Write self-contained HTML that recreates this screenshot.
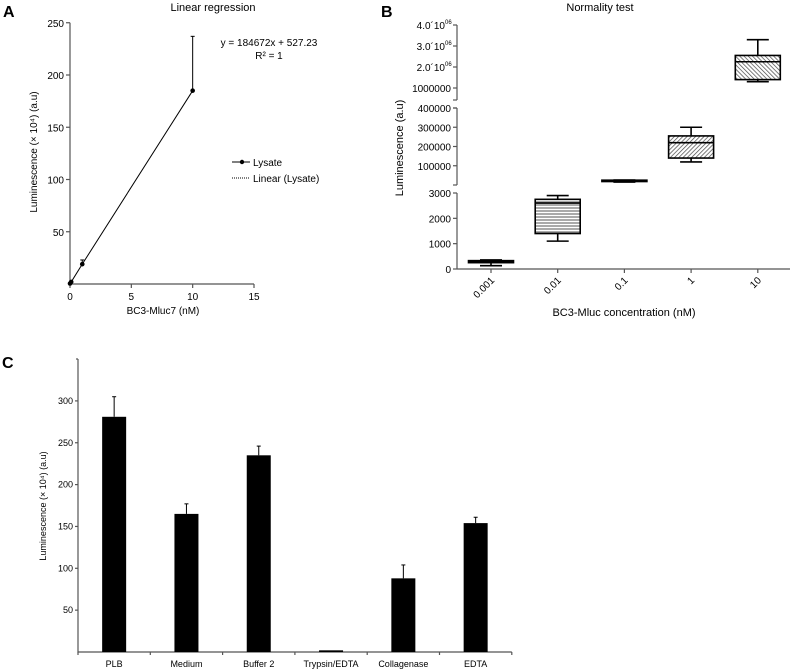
<!DOCTYPE html>
<html><head><meta charset="utf-8"><style>
body{margin:0;background:#fff}
svg{display:block;font-family:"Liberation Sans",Arial,sans-serif}
</style></head><body>
<svg id="fig" width="791" height="669" viewBox="0 0 791 669">
<defs>
<pattern id="hH" width="4" height="3" patternUnits="userSpaceOnUse"><rect width="4" height="3" fill="#fff"/><line x1="0" y1="1" x2="4" y2="1" stroke="#555" stroke-width="1"/></pattern>
<pattern id="hF" width="3" height="3" patternUnits="userSpaceOnUse" patternTransform="rotate(45)"><rect width="3" height="3" fill="#fff"/><line x1="0" y1="0" x2="0" y2="3" stroke="#444" stroke-width="1.4"/></pattern>
<pattern id="hB" width="3" height="3" patternUnits="userSpaceOnUse" patternTransform="rotate(-45)"><rect width="3" height="3" fill="#fff"/><line x1="0" y1="0" x2="0" y2="3" stroke="#444" stroke-width="1.4"/></pattern>
</defs>
<g id="pa"></g>
<g id="pb"></g>
<g id="pc"></g>
</svg>
<script>
// Panel A data
const aX = [0, 0.1, 1, 10];
const aY = [0.5, 2, 19, 185];
const aErr = [0, 0, 4, 52];
const aXTicks = [0, 5, 10, 15];
const aYTicks = [50, 100, 150, 200, 250];
// Panel B data
const bCats = ["0.001", "0.01", "0.1", "1", "10"];
const bMin = [130, 1100, 15000, 120000, 1300000];
const bQ1 = [250, 1400, 18000, 140000, 1400000];
const bMed = [290, 2600, 21000, 220000, 2250000];
const bQ3 = [330, 2750, 25000, 255000, 2550000];
const bMax = [360, 2900, 26000, 300000, 3300000];
const bLowTicks = [0, 1000, 2000, 3000];
const bMidTicks = [100000, 200000, 300000, 400000];
const bTopTicks = [1000000, 2000000, 3000000, 4000000];
const bTopLabels = ["1000000", "2.0\u00b410", "3.0\u00b410", "4.0\u00b410"];
// Panel C data
const cCats = ["PLB", "Medium", "Buffer 2", "Trypsin/EDTA", "Collagenase", "EDTA"];
const cVals = [281, 165, 235, 2, 88, 154];
const cErr = [24, 12, 11, 0, 16, 7];
const cYTicks = [50, 100, 150, 200, 250, 300];

const NS = "http://www.w3.org/2000/svg";
function mk(p, tag, at, txt) {
  const e = document.createElementNS(NS, tag);
  for (const k in at) e.setAttribute(k, at[k]);
  if (txt !== undefined) e.textContent = txt;
  p.appendChild(e); return e;
}
const S = {stroke: "#000", "stroke-width": 1};
const AX = {stroke: "#555", "stroke-width": 1.2};

// ---------- Panel A ----------
(function(){
  const g = document.getElementById("pa");
  const sx = v => 70 + v * (254 - 70) / 15;
  const sy = v => 284 - v * 1.045;
  let t;
  t = mk(g, "text", {x: 3, y: 17, "font-size": 16, "font-weight": "bold"}, "A");
   
  t = mk(g, "text", {x: 213, y: 11, "font-size": 11, "text-anchor": "middle"}, "Linear regression");
   
  let l = mk(g, "path", Object.assign({d: `M70 ${sy(250)} V284 H254`, fill: "none"}, AX));
   
  aXTicks.forEach(v => {
    mk(g, "line", Object.assign({x1: sx(v), x2: sx(v), y1: 284, y2: 288}, AX));
    const tt = mk(g, "text", {x: sx(v), y: 300, "font-size": 10, "text-anchor": "middle"}, v);
     
  });
  aYTicks.forEach(v => {
    mk(g, "line", Object.assign({x1: 66, x2: 70, y1: sy(v), y2: sy(v)}, AX));
    const tt = mk(g, "text", {x: 64, y: sy(v) + 4, "font-size": 10, "text-anchor": "end"}, v);
     
  });
  t = mk(g, "text", {x: 163, y: 314, "font-size": 10, "text-anchor": "middle"}, "BC3-Mluc7 (nM)");
   
  t = mk(g, "text", {x: 0, y: 0, "font-size": 10, "text-anchor": "middle", transform: "translate(37,152) rotate(-90)"}, "Luminescence (\u00d7 10\u2074) (a.u)");
   
  const pts = aX.map((x, i) => sx(x) + "," + sy(aY[i])).join(" ");
  l = mk(g, "polyline", Object.assign({points: pts, fill: "none"}, S));
   
  aX.forEach((x, i) => {
    if (aErr[i] > 0) {
      mk(g, "line", Object.assign({x1: sx(x), x2: sx(x), y1: sy(aY[i]), y2: sy(aY[i] + aErr[i])}, S));
      mk(g, "line", Object.assign({x1: sx(x) - 2, x2: sx(x) + 2, y1: sy(aY[i] + aErr[i]), y2: sy(aY[i] + aErr[i])}, S));
    }
    const c = mk(g, "circle", {cx: sx(x), cy: sy(aY[i]), r: 2.3, fill: "#000"});
     
  });
  t = mk(g, "text", {x: 269, y: 46, "font-size": 10, "text-anchor": "middle"}, "y = 184672x + 527.23");
   
  t = mk(g, "text", {x: 269, y: 59, "font-size": 10, "text-anchor": "middle"}, "R\u00b2 = 1");
   
  mk(g, "line", Object.assign({x1: 232, x2: 250, y1: 162, y2: 162}, S));
  mk(g, "circle", {cx: 242, cy: 162, r: 2.2, fill: "#000"});
  t = mk(g, "text", {x: 253, y: 166, "font-size": 10}, "Lysate");
   
  mk(g, "line", {x1: 232, x2: 250, y1: 178, y2: 178, stroke: "#000", "stroke-width": 1, "stroke-dasharray": "1,1"});
  t = mk(g, "text", {x: 253, y: 182, "font-size": 10}, "Linear (Lysate)");
   
})();

// ---------- Panel B ----------
(function(){
  const g = document.getElementById("pb");
  const X0 = 457, step = 66.7, cx0 = 491;
  const cx = i => cx0 + i * step;
  function sy(v) {
    if (v <= 3000) return 269 - v * (269 - 193) / 3000;
    if (v <= 430000) return 185 - v * (185 - 108) / 400000;
    return 88 - (v - 1000000) * 21 / 1000000;
  }
  let t;
  t = mk(g, "text", {x: 381, y: 17, "font-size": 16, "font-weight": "bold"}, "B");
   
  t = mk(g, "text", {x: 600, y: 11, "font-size": 11, "text-anchor": "middle"}, "Normality test");
   
  // axis segments
  mk(g, "line", Object.assign({x1: X0, x2: X0, y1: 25, y2: 100}, AX));
  mk(g, "line", Object.assign({x1: X0 - 4, x2: X0, y1: 100, y2: 100}, AX));
  mk(g, "line", Object.assign({x1: X0, x2: X0, y1: 108, y2: 185}, AX));
  mk(g, "line", Object.assign({x1: X0 - 4, x2: X0, y1: 108, y2: 108}, AX));
  mk(g, "line", Object.assign({x1: X0 - 4, x2: X0, y1: 185, y2: 185}, AX));
  mk(g, "line", Object.assign({x1: X0, x2: X0, y1: 193, y2: 269}, AX));
  const xa = mk(g, "line", Object.assign({x1: X0, x2: 790, y1: 269, y2: 269}, AX));
   
  const yt = (v, lab, sup) => {
    mk(g, "line", Object.assign({x1: X0 - 4, x2: X0, y1: sy(v), y2: sy(v)}, AX));
    const tt = mk(g, "text", {x: sup ? X0 - 12 : X0 - 6, y: sy(v) + 4, "font-size": 10, "text-anchor": "end"}, lab);
     
    if (sup) mk(g, "text", {x: X0 - 12, y: sy(v) - 1, "font-size": 6}, "06");
  };
  bLowTicks.forEach(v => yt(v, v, false));
  bMidTicks.forEach(v => yt(v, v, false));
  bTopTicks.forEach((v, i) => yt(v, bTopLabels[i], i > 0));
  const fills = ["#000", "url(#hH)", "#000", "url(#hF)", "url(#hB)"];
  bCats.forEach((c, i) => {
    const x = cx(i), w = 45;
    mk(g, "line", Object.assign({x1: x, x2: x, y1: 269, y2: 273}, AX));
    const tl = mk(g, "text", {x: 0, y: 0, "font-size": 10, "text-anchor": "end", transform: `translate(${x + 4},${281}) rotate(-45)`}, c);
     
    const bg = mk(g, "g", {});
    
    
    const sw = {stroke: "#000", "stroke-width": 1.6};
    mk(bg, "line", Object.assign({x1: x, x2: x, y1: sy(bMax[i]), y2: sy(bQ3[i])}, sw));
    mk(bg, "line", Object.assign({x1: x, x2: x, y1: sy(bMin[i]), y2: sy(bQ1[i])}, sw));
    mk(bg, "line", Object.assign({x1: x - 11, x2: x + 11, y1: sy(bMax[i]), y2: sy(bMax[i])}, sw));
    mk(bg, "line", Object.assign({x1: x - 11, x2: x + 11, y1: sy(bMin[i]), y2: sy(bMin[i])}, sw));
    const top = sy(bQ3[i]), bot = sy(bQ1[i]);
    mk(bg, "rect", Object.assign({x: x - w / 2, y: top, width: w, height: Math.max(1, bot - top), fill: fills[i]}, sw));
    mk(bg, "line", Object.assign({x1: x - w / 2, x2: x + w / 2, y1: sy(bMed[i]), y2: sy(bMed[i])}, sw));
  });
  t = mk(g, "text", {x: 624, y: 316, "font-size": 11, "text-anchor": "middle"}, "BC3-Mluc concentration (nM)");
   
  t = mk(g, "text", {x: 0, y: 0, "font-size": 11, "text-anchor": "middle", transform: "translate(403,148) rotate(-90)"}, "Luminescence (a.u)");
   
})();

// ---------- Panel C ----------
(function(){
  const g = document.getElementById("pc");
  const X0 = 78, step = 72.3;
  const sy = v => 652 - v * 0.837;
  let t;
  t = mk(g, "text", {x: 2, y: 368, "font-size": 16, "font-weight": "bold"}, "C");
   
  mk(g, "path", Object.assign({d: `M${X0} 359 V652 H${X0 + step * cCats.length}`, fill: "none"}, AX));
  mk(g, "line", Object.assign({x1: X0 - 2, x2: X0, y1: 359, y2: 359}, AX));
  cYTicks.forEach(v => {
    mk(g, "line", Object.assign({x1: X0 - 3, x2: X0, y1: sy(v), y2: sy(v)}, AX));
    const tt = mk(g, "text", {x: X0 - 5, y: sy(v) + 3, "font-size": 9, "text-anchor": "end"}, v);
     
  });
  for (let i = 0; i <= cCats.length; i++) mk(g, "line", Object.assign({x1: X0 + i * step, x2: X0 + i * step, y1: 652, y2: 655}, AX));
  cCats.forEach((c, i) => {
    const x = X0 + step * (i + 0.5);
    const top = sy(cVals[i]);
    const r = mk(g, "rect", {x: x - 12, y: top, width: 24, height: 652 - top, fill: "#000"});
    
    
    if (cErr[i] > 0) {
      mk(g, "line", Object.assign({x1: x, x2: x, y1: top, y2: sy(cVals[i] + cErr[i])}, S));
      mk(g, "line", Object.assign({x1: x - 2, x2: x + 2, y1: sy(cVals[i] + cErr[i]), y2: sy(cVals[i] + cErr[i])}, S));
    }
    const tl = mk(g, "text", {x: x, y: 667, "font-size": 9, "text-anchor": "middle"}, c);
     
  });
  t = mk(g, "text", {x: 0, y: 0, "font-size": 9, "text-anchor": "middle", transform: "translate(46,506) rotate(-90)"}, "Luminescence (\u00d7 10\u2074) (a.u)");
   
})();
</script>
</body></html>
